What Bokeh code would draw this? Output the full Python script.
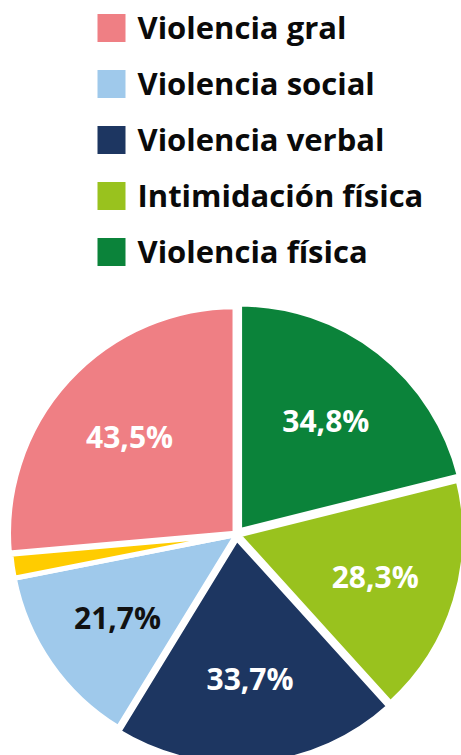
import math
from bokeh.plotting import figure
from bokeh.models import Range1d, ColumnDataSource
from bokeh.core.properties import value
from bokeh.embed import file_html
from bokeh.resources import INLINE

# ---- data (clockwise from 12 o'clock) ----
categories = ["Violencia física", "Intimidación física", "Violencia verbal",
              "Violencia social", "Otros", "Violencia gral"]
values = [34.8, 28.3, 33.7, 21.7, 2.8, 43.5]
slice_labels = ["34,8%", "28,3%", "33,7%", "21,7%", "", "43,5%"]
colors = ["#0B833A", "#99C21E", "#1D3661", "#9FC9EB", "#FFCC00", "#EF7F84"]
label_colors = ["white", "white", "white", "#111111", "white", "white"]

legend_labels = ["Violencia gral", "Violencia social", "Violencia verbal",
                 "Intimidación física", "Violencia física"]
legend_colors = ["#EF7F84", "#9FC9EB", "#1D3661", "#99C21E", "#0B833A"]

# ---- styling ----
W, H = 461, 755
cx, cy = 236, H - 534
R = 226.5
explode = [5, 2, 4, 0, 0, 2]
label_r = 145
FONT = "Open Sans"

p = figure(width=W, height=H, output_backend="svg", toolbar_location=None,
           x_range=Range1d(0, W), y_range=Range1d(0, H),
           x_axis_location=None, y_axis_location=None, min_border=0)
p.outline_line_color = None
p.grid.visible = False
p.background_fill_color = "white"
p.border_fill_color = "white"

total = sum(values)
xs, ys, starts, ends, lx, ly = [], [], [], [], [], []
cum = 0.0
for v, d in zip(values, explode):
    s = math.pi / 2 - cum / total * 2 * math.pi
    e = s - v / total * 2 * math.pi
    mid = (s + e) / 2
    ox, oy = cx + d * math.cos(mid), cy + d * math.sin(mid)
    xs.append(ox); ys.append(oy); starts.append(s); ends.append(e)
    lx.append(cx + label_r * math.cos(mid)); ly.append(cy + label_r * math.sin(mid))
    cum += v

src = ColumnDataSource(dict(x=xs, y=ys, start=starts, end=ends, color=colors,
                            cat=categories, lab=slice_labels, lx=lx, ly=ly,
                            lc=label_colors))
p.wedge(x="x", y="y", radius=R, start_angle="start", end_angle="end",
        direction="clock", fill_color="color", line_color="white",
        line_width=5, source=src)
p.text(x="lx", y="ly", text="lab", text_color="lc", source=src,
       text_font=value(FONT), text_font_style="bold", text_font_size="30px",
       text_align="center", text_baseline="middle")

# ---- legend ----
leg_y = [H - 27.5 - 56 * i for i in range(len(legend_labels))]
p.rect(x=[111] * len(legend_labels), y=leg_y, width=28, height=28,
       fill_color=legend_colors, line_color=None)
p.text(x=[137] * len(legend_labels), y=[y + 1 for y in leg_y], text=legend_labels,
       text_color="#0a0a0a", text_font=value(FONT), text_font_style="bold",
       text_font_size="31px", text_baseline="middle")

open("out.html", "w").write(file_html(p, INLINE))
